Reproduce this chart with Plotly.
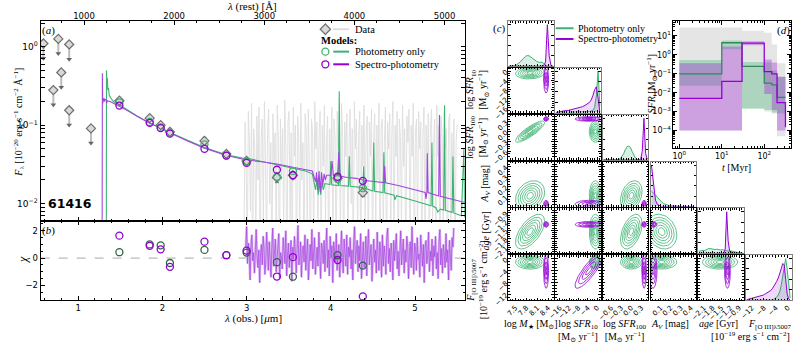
import numpy as np
import plotly.graph_objects as go

W, H = 793, 350
ONE_PLUS_Z = 10.7

GREEN = '#3cb371'
GREEN_DARK = '#2f6646'
PURPLE = '#9400d3'
PURPLE_SPEC = '#a445e0'
PURPLE_LIGHT = '#dfbaf4'
GRAY_SPEC = '#dedede'
SERIF = 'Liberation Serif, DejaVu Serif, serif'
SANS = 'DejaVu Sans, sans-serif'

# ---------------- panel (a)/(b): photometry ----------------
phot_wl = [1.49, 1.85, 1.98, 2.09, 2.50, 2.76, 3.00, 3.36, 3.55, 4.08, 4.38]
phot_flux = [0.205, 0.123, 0.100, 0.082, 0.063, 0.043, 0.035, 0.0215, 0.023, 0.021, 0.0138]
phot_err = [0.012, 0.008, 0.008, 0.009, 0.007, 0.003, 0.003, 0.003, 0.002, 0.002, 0.0015]
ul_wl = [0.588, 0.706, 0.765, 0.800, 0.894, 0.894, 1.153]
ul_flux = [1.10, 0.28, 1.26, 0.47, 1.07, 0.155, 0.091]
UL_DROP = 0.65
modphot_green = [0.195, 0.110, 0.093, 0.080, 0.057, 0.041, 0.034, 0.022, 0.026, 0.0205, 0.0158]
modphot_purple = [0.178, 0.107, 0.092, 0.078, 0.050, 0.041, 0.033, 0.027, 0.023, 0.022, 0.0195]
chi_green = [0.43, 1.00, 0.93, -0.36, 0.60, 0.21, 0.40, -0.30, -1.36, 0.21, -0.55]
chi_purple = [1.64, 0.90, 0.64, -0.64, 1.20, 0.21, 0.55, -1.35, 0.07, -0.14, -2.80]

# model spectra (obs um, flux)
model_purple = [
    (1.284, 0.0005), (1.288, 0.46), (1.292, 0.19), (1.297, 0.215), (1.305, 0.22), (1.31, 0.2),
    (1.315, 0.215), (1.33, 0.21), (1.34, 0.19), (1.345, 0.205), (1.38, 0.2), (1.42, 0.19),
    (1.5, 0.172), (1.6, 0.15), (1.7, 0.13), (1.85, 0.106), (2.0, 0.09), (2.1, 0.079),
    (2.3, 0.063), (2.5, 0.051), (2.76, 0.041), (3.0, 0.036), (3.2, 0.034), (3.36, 0.032),
    (3.55, 0.029), (3.7, 0.027), (3.78, 0.026), (3.82, 0.019), (3.83, 0.025), (3.845, 0.015),
    (3.86, 0.026), (3.875, 0.014), (3.89, 0.025), (3.905, 0.017), (3.92, 0.024), (3.935, 0.02),
    (3.95, 0.023), (4.0, 0.023), (4.015, 0.035), (4.03, 0.023), (4.08, 0.0225), (4.095, 0.045),
    (4.11, 0.0223), (4.2, 0.0215), (4.3, 0.021), (4.39, 0.0198), (4.40, 0.017), (4.41, 0.0197),
    (4.5, 0.0192), (4.63, 0.0185), (4.64, 0.03), (4.65, 0.0184), (4.8, 0.017), (5.0, 0.0148),
    (5.12, 0.0139), (5.13, 0.0115), (5.14, 0.0139), (5.145, 0.044), (5.155, 0.0138),
    (5.28, 0.0125), (5.29, 0.135), (5.30, 0.0124), (5.4, 0.0116), (5.5, 0.011), (5.6, 0.0103)]
model_green = [
    (1.334, 0.0005), (1.337, 0.5), (1.342, 0.34), (1.347, 0.4), (1.352, 0.28), (1.36, 0.3),
    (1.37, 0.24), (1.39, 0.22), (1.42, 0.2), (1.5, 0.18), (1.6, 0.152), (1.7, 0.131),
    (1.85, 0.107), (2.0, 0.091), (2.1, 0.08), (2.3, 0.064), (2.5, 0.052), (2.76, 0.042),
    (2.95, 0.038), (3.05, 0.037), (3.2, 0.034), (3.36, 0.031), (3.55, 0.028), (3.7, 0.026),
    (3.78, 0.024), (3.82, 0.015), (3.835, 0.021), (3.85, 0.013), (3.865, 0.02), (3.88, 0.013),
    (3.895, 0.019), (3.91, 0.015), (3.93, 0.018), (3.99, 0.0175), (4.0, 0.035), (4.01, 0.0174),
    (4.09, 0.017), (4.1, 0.27), (4.11, 0.017), (4.21, 0.0167), (4.22, 0.04), (4.23, 0.0166),
    (4.38, 0.016), (4.39, 0.03), (4.40, 0.0158), (4.5, 0.0145), (4.51, 0.06), (4.52, 0.0144),
    (4.62, 0.0138), (4.63, 0.045), (4.64, 0.0137), (4.75, 0.0128), (4.76, 0.0112), (4.78, 0.0126),
    (5.0, 0.0108), (5.1, 0.0100), (5.19, 0.0094), (5.2, 0.06), (5.21, 0.0093), (5.25, 0.0088),
    (5.27, 0.0078), (5.3, 0.0085), (5.34, 0.0083), (5.35, 0.18), (5.36, 0.0082), (5.44, 0.0077),
    (5.45, 0.04), (5.46, 0.0076), (5.55, 0.0070), (5.58, 0.05), (5.59, 0.0067), (5.6, 0.0066)]

# NIRSpec spectrum (gray) from 2.97 to 5.50 um
spec_start, spec_end = 2.97, 5.50
spec_gray = [
    0.004, 0.11, 0.03, 0.002, 0.15, 0.06, 0.008, 0.19, 0.001, 0.09,
    0.05, 0.003, 0.13, 0.02, 0.17, 0.001, 0.07, 0.12, 0.005, 0.2,
    0.04, 0.002, 0.1, 0.16, 0.01, 0.06, 0.001, 0.14, 0.03, 0.08,
    0.003, 0.18, 0.07, 0.001, 0.12, 0.02, 0.09, 0.004, 0.21, 0.05,
    0.001, 0.11, 0.15, 0.006, 0.08, 0.002, 0.17, 0.04, 0.1, 0.001,
    0.13, 0.07, 0.003, 0.19, 0.02, 0.06, 0.001, 0.14, 0.09, 0.005,
    0.16, 0.03, 0.001, 0.12, 0.08, 0.002, 0.2, 0.05, 0.11, 0.004,
    0.07, 0.15, 0.001, 0.1, 0.03, 0.18, 0.006, 0.06, 0.13, 0.001,
    0.09, 0.02, 0.17, 0.004, 0.12, 0.07, 0.001, 0.15, 0.05, 0.1,
    0.003, 0.19, 0.08, 0.001, 0.11, 0.04, 0.14, 0.002, 0.06, 0.16,
    0.01, 0.09, 0.001, 0.2, 0.05, 0.12, 0.003, 0.07, 0.15, 0.001,
    0.1, 0.03, 0.18, 0.006, 0.08, 0.13, 0.002, 0.11, 0.04, 0.16,
    0.001, 0.07, 0.14, 0.005, 0.1, 0.02, 0.19, 0.001, 0.09, 0.12,
    0.004, 0.06, 0.17, 0.001, 0.11, 0.05, 0.14, 0.003, 0.08, 0.2,
    0.002, 0.1, 0.04, 0.15, 0.001, 0.12, 0.07, 0.005, 0.18, 0.03,
    0.09, 0.001, 0.13, 0.06, 0.16, 0.002, 0.1, 0.04, 0.19, 0.001,
    0.08, 0.12, 0.003, 0.15, 0.05, 0.11, 0.001, 0.07, 0.17, 0.004,
    0.1, 0.02, 0.14, 0.001, 0.09, 0.16, 0.006, 0.06, 0.12, 0.002,
    0.18, 0.04, 0.1, 0.001, 0.13, 0.07, 0.003, 0.15, 0.05, 0.09,
    0.001, 0.11, 0.14, 0.004, 0.08, 0.02, 0.12, 0.001, 0.06, 0.1]

# spectral chi residuals (spectro-photometry) from 2.99 to 5.46 um
chi_start, chi_end = 2.99, 5.46
chi_spec = [
    0.8, 2.3, -0.4, 1.1, 0.2, -1.6, 0.9, 1.7, -0.2, 0.4,
    -1.1, 1.3, 2.1, 0.1, -0.7, 0.6, -1.8, 0.3, 1.0, -0.5,
    1.6, 0.7, -1.2, -0.3, 1.9, 0.5, -0.9, 1.2, 0.0, -1.4,
    0.8, 2.2, -0.6, 0.3, 1.4, -1.0, -0.2, 0.9, 1.8, -1.5,
    0.4, 0.1, -0.8, 1.5, 0.6, -0.4, 2.0, -1.3, 0.2, 1.1,
    -0.7, 0.5, 1.3, -1.7, 0.8, -0.1, 1.6, 0.3, -1.1, 0.7,
    2.4, -0.5, 0.0, 1.2, -1.4, 0.6, 0.9, -0.3, 1.7, -0.9,
    0.2, 1.4, -1.6, 0.5, 1.0, -0.2, 2.1, -0.8, 0.3, 1.5,
    -1.2, 0.1, 0.8, -0.6, 1.9, 0.4, -1.5, 1.1, 0.7, -0.4,
    1.3, -1.0, 0.2, 2.2, -0.7, 0.6, -1.3, 1.6, 0.0, 0.9,
    -1.8, 1.2, 0.5, -0.3, 1.8, -0.9, 0.4, 1.0, -1.4, 0.7,
    2.0, -0.1, -1.1, 1.4, 0.3, -0.6, 1.7, -1.2, 0.8, 0.1,
    1.5, -0.8, 0.6, -1.6, 1.1, 2.3, -0.4, 0.2, 1.3, -1.0,
    0.9, -0.2, 1.8, -1.5, 0.5, 1.2, -0.7, 0.0, 1.6, -1.3,
    0.7, 2.1, -0.5, 0.3, 1.0, -1.7, 0.8, 1.4, -0.3, 0.6,
    -1.1, 1.9, 0.2, -0.9, 1.2, 0.4, -1.4, 1.7, -0.6, 0.9,
    0.1, -1.2, 1.5, 2.2, -0.4, 0.7, -1.0, 1.1, 0.3, -1.6,
    1.3, -0.2, 0.8, 1.8, -0.8, 0.5, -1.3, 1.0, 2.0, -0.5,
    0.2, 1.4, -1.1, 0.6, -0.3, 1.6, 0.9, -1.5, 0.4, 1.2,
    -0.7, 2.3, 0.0, -1.2, 1.1, 0.7, -0.9, 1.5, -0.1, 0.3,
    -1.4, 1.7, 0.6, -0.6, 1.0, -1.8, 0.8, 1.3, -0.4, 0.2,
    1.9, -1.0, 0.5, -0.2, 1.4, -1.3, 0.9, 0.1, 1.6, -0.8,
    0.4, -1.5, 1.2, 2.1, -0.5, 0.7, -1.1, 1.0, 0.3, -0.7,
    1.8, -0.3, 0.6, -1.6, 1.3, 0.0, -0.9, 1.5, 0.8, 2.2]

# ---------------- panel (c): corner plot ----------------
p_range = [[7.3, 8.55], [-18, 1.5], [-0.85, 0.5], [0.002, 0.45], [-2.3, -0.75], [-14, 1.2]]
p_tick0 = [7.5, 0, 0, 0.1, -0.9, 0]
p_dtick = [0.3, 4, 0.3, 0.1, 0.3, 4]
p_fmt = ['.1f', 'd', '.1f', '.1f', '.1f', 'd']
green_mean = [7.9, -0.8, 0.0, 0.11, -1.55, -1.1]
green_sd = [0.2, 1.3, 0.16, 0.075, 0.3, 1.2]
purple_mean = [8.34, -3.5, 0.38, 0.025, -1.3, -4.0]
purple_sd = [0.035, 3.0, 0.035, 0.02, 0.05, 3.0]
green_rho = {(0, 2): 0.85, (0, 3): 0.25, (0, 4): 0.6, (2, 4): 0.45, (2, 3): 0.3, (3, 4): -0.2, (0, 1): 0.1}
purple_rho = {(1, 5): 0.85}
green_levels = [0.45, 0.75, 1.05, 1.35, 1.65, 2.0]
purple_levels = [0.5, 1.0, 1.5, 2.0]

# 1D marginal histograms: (lo, bin width, counts)
hist_green = [
    (7.3, 0.05, [0, 0, 0, 0.01, 0.03, 0.06, 0.1, 0.15, 0.2, 0.24, 0.26, 0.25, 0.22, 0.18, 0.14, 0.12,
                 0.1, 0.09, 0.1, 0.06, 0.02, 0, 0, 0, 0]),
    (-18, 0.75, [0, 0, 0, 0, 0, 0, 0, 0, 0, 0, 0, 0, 0, 0, 0, 0.005, 0.01, 0.01, 0.015, 0.02, 0.03,
                 0.05, 0.12, 0.4, 1.0, 0.15]),
    (-0.85, 0.05, [0, 0, 0, 0, 0, 0, 0, 0, 0, 0, 0.03, 0.08, 0.15, 0.25, 0.32, 0.33, 0.3, 0.2, 0.1,
                   0.04, 0.01, 0, 0, 0, 0, 0, 0]),
    (0.0, 0.02, [0.37, 0.33, 0.28, 0.22, 0.16, 0.11, 0.07, 0.05, 0.03, 0.02, 0.015, 0.01, 0.005,
                 0.003, 0, 0, 0, 0, 0, 0, 0, 0]),
    (-2.3, 0.05, [0.05, 0.06, 0.06, 0.07, 0.07, 0.08, 0.1, 0.12, 0.11, 0.1, 0.1, 0.09, 0.1, 0.09,
                  0.08, 0.08, 0.09, 0.07, 0.07, 0.06, 0.06, 0.05, 0.05, 0.05, 0.04, 0.03, 0.03,
                  0.02, 0.01, 0.01, 0.0]),
    (-14, 0.5, [0, 0, 0, 0, 0, 0, 0, 0, 0, 0, 0, 0, 0, 0, 0, 0, 0, 0, 0.02, 0.04, 0.07, 0.12, 0.2,
                0.35, 0.55, 0.8, 1.0, 0.75, 0.3, 0.05]),
]
hist_purple = [
    (7.3, 0.05, [0, 0, 0, 0, 0, 0, 0, 0, 0, 0, 0, 0, 0, 0, 0, 0, 0, 0, 0, 0.02, 0.1, 1.0, 0.25,
                 0.02, 0]),
    (-18, 0.75, [0, 0, 0.02, 0.03, 0.03, 0.04, 0.05, 0.05, 0.06, 0.07, 0.08, 0.09, 0.1, 0.11, 0.12,
                 0.14, 0.16, 0.18, 0.2, 0.24, 0.3, 0.4, 0.55, 0.62, 0.35, 0.02]),
    (-0.85, 0.05, [0, 0, 0, 0, 0, 0, 0, 0, 0, 0, 0, 0, 0, 0, 0, 0, 0, 0, 0, 0, 0, 0, 0, 0.2, 1.0,
                   0.15, 0.01]),
    (0.0, 0.02, [1.0, 0.5, 0.15, 0.05, 0.02, 0, 0, 0, 0, 0, 0, 0, 0, 0, 0, 0, 0, 0, 0, 0, 0, 0]),
    (-2.3, 0.05, [0, 0, 0, 0, 0, 0, 0, 0, 0, 0, 0, 0, 0, 0, 0, 0, 0, 0, 0.1, 1.0, 0.3, 0.06, 0.03,
                  0.01, 0, 0, 0, 0, 0, 0, 0]),
    (-14, 0.5, [0.01, 0.02, 0.02, 0.03, 0.04, 0.05, 0.06, 0.07, 0.08, 0.09, 0.1, 0.12, 0.14, 0.16,
                0.18, 0.2, 0.23, 0.27, 0.32, 0.38, 0.45, 0.53, 0.62, 0.75, 0.88, 0.85, 0.5, 0.15,
                0.03, 0]),
]

# ---------------- panel (d): star-formation history ----------------
sfh_edges = [1, 10, 30, 100, 150, 200, 316]
sfh_green = [0.1, 4.4, 0.245, 0.032, 0.026, 0.0056]
sfh_purple = [0.005, 0.04, 4.2, 0.13, 0.1, 0.003]
sfh_purple_end = 1.5e-4
green_lo = [0.023, 2.0, 0.0014, 0.0012, 0.0009, 0.0008]
green_hi = [0.53, 5.7, 0.42, 0.4, 0.15, 0.07]
purple_lo = [1e-4, 1e-4, 3.2, 0.0085, 0.0012, 1e-4]
purple_hi = [0.36, 2.8, 5.3, 0.57, 0.4, 0.07]
gray_lo = [1e-4, 1e-4, 0.0015, 0.001, 0.0008, 5e-5]
gray_hi = [28, 28, 19, 15, 3.5, 0.36]

# =====================================================================
fig = go.Figure()
L = dict(width=W, height=H, margin=dict(l=0, r=0, t=0, b=0, pad=0),
         paper_bgcolor='white', plot_bgcolor='rgba(0,0,0,0)', showlegend=False,
         font=dict(family=SANS, size=9, color='black'))
ann = []


def dom_x(a, b):
    return [a / W, b / W]


def dom_y(top, bottom):
    return [1 - bottom / H, 1 - top / H]


def minor_log(e0, e1):
    return [d * 10.0 ** e for e in range(e0, e1) for d in range(2, 10)]


AX = dict(showline=True, linecolor='black', linewidth=1, ticks='inside', tickcolor='black',
          ticklen=4, tickwidth=0.8, showgrid=False, zeroline=False,
          tickfont=dict(family=SANS, size=8.5, color='black'))
MINOR = dict(ticks='inside', ticklen=2, tickcolor='black', tickwidth=0.6, showgrid=False)

counter = [0]


def add_axes(xdom, ydom, xo, yo):
    counter[0] += 1
    k = counter[0]
    sx = '' if k == 1 else str(k)
    L['xaxis' + sx] = dict(AX, domain=xdom, anchor='y' + sx, **xo)
    L['yaxis' + sx] = dict(AX, domain=ydom, anchor='x' + sx, **yo)
    return 'x' + sx, 'y' + sx


def A(text, px, py, size=10.5, xanchor='center', yanchor='middle', angle=0, family=SERIF):
    ann.append(dict(text=text, x=px / W, y=1 - py / H, xref='paper', yref='paper', showarrow=False,
                    xanchor=xanchor, yanchor=yanchor, textangle=angle,
                    font=dict(family=family, size=size, color='black')))


XR = [0.555, 5.59]

# ---------------- panel (a) ----------------
xa, ya = add_axes(
    dom_x(33, 462), dom_y(22, 227),
    dict(range=XR, tickmode='linear', tick0=0, dtick=1, showticklabels=False, mirror=True,
         minor=dict(MINOR, dtick=0.2, tick0=0)),
    dict(type='log', range=[-2.224, 0.323], tickmode='array', tickvals=[0.01, 0.1, 1],
         ticktext=['10<sup>−2</sup>', '10<sup>−1</sup>', '10<sup>0</sup>'], mirror='allticks',
         tickfont=dict(family=SANS, size=9, color='black'),
         minor=dict(MINOR, tickmode='array', tickvals=minor_log(-3, 1))))
L['xaxis2'] = dict(AX, overlaying='x', anchor='y', side='top', showline=False,
                   range=[XR[0] * 1e4 / ONE_PLUS_Z, XR[1] * 1e4 / ONE_PLUS_Z],
                   tickmode='linear', tick0=0, dtick=1000, minor=dict(MINOR, dtick=250, tick0=0))
counter[0] = 2

fig.add_trace(go.Scatter(x=[w * 1e4 / ONE_PLUS_Z for w in phot_wl], y=phot_flux, mode='markers',
                         marker=dict(opacity=0), hoverinfo='skip', xaxis='x2', yaxis='y'))

spec_wl = np.linspace(spec_start, spec_end, len(spec_gray))
fig.add_trace(go.Scatter(x=spec_wl, y=spec_gray, mode='lines', line=dict(color=GRAY_SPEC, width=0.9),
                         xaxis=xa, yaxis=ya))
gw, gf = zip(*model_green)
pw, pf = zip(*model_purple)
fig.add_trace(go.Scatter(x=gw, y=gf, mode='lines', line=dict(color=GREEN, width=1.1), xaxis=xa, yaxis=ya))
fig.add_trace(go.Scatter(x=pw, y=pf, mode='lines', line=dict(color=PURPLE_SPEC, width=1.1), xaxis=xa, yaxis=ya))

ulx, uly = [], []
for w, f in zip(ul_wl, ul_flux):
    ulx += [w, w, None]
    uly += [f, f * UL_DROP, None]
fig.add_trace(go.Scatter(x=ulx, y=uly, mode='lines', line=dict(color='#bdbdbd', width=2),
                         xaxis=xa, yaxis=ya))
fig.add_trace(go.Scatter(x=ul_wl, y=[f * UL_DROP for f in ul_flux], mode='markers',
                         marker=dict(symbol='triangle-down', size=5, color='#666666'),
                         xaxis=xa, yaxis=ya))
fig.add_trace(go.Scatter(x=ul_wl, y=ul_flux, mode='markers',
                         marker=dict(symbol='diamond', size=7, color='#d9d9d9',
                                     line=dict(color='#6e6e6e', width=1.2)), xaxis=xa, yaxis=ya))
fig.add_trace(go.Scatter(x=phot_wl, y=phot_flux, mode='markers',
                         error_y=dict(type='data', array=phot_err, color='#777777', thickness=1, width=2),
                         marker=dict(symbol='diamond', size=7, color='#d9d9d9',
                                     line=dict(color='#6e6e6e', width=1.2)), xaxis=xa, yaxis=ya))
fig.add_trace(go.Scatter(x=phot_wl, y=modphot_green, mode='markers',
                         marker=dict(symbol='circle-open', size=7, color=GREEN, line=dict(width=1.3)),
                         xaxis=xa, yaxis=ya))
fig.add_trace(go.Scatter(x=phot_wl, y=modphot_purple, mode='markers',
                         marker=dict(symbol='circle-open', size=7, color=PURPLE, line=dict(width=1.3)),
                         xaxis=xa, yaxis=ya))

# ---------------- panel (b) ----------------
xb, yb = add_axes(
    dom_x(33, 462), dom_y(227, 308),
    dict(range=XR, tickmode='linear', tick0=0, dtick=1, mirror='allticks',
         minor=dict(MINOR, dtick=0.2, tick0=0)),
    dict(range=[-3.07, 2.7], tickmode='array', tickvals=[-2, 0, 2], mirror='allticks',
         minor=dict(MINOR, dtick=0.5, tick0=0)))
L['shapes'] = [dict(type='line', xref=xb + ' domain', x0=0, x1=1, yref=yb, y0=0, y1=0,
                    line=dict(color='#aaaaaa', width=1, dash='dash'), layer='below')]
chi_wl = np.linspace(chi_start, chi_end, len(chi_spec))
fig.add_trace(go.Scatter(x=chi_wl, y=chi_spec, mode='lines', line=dict(color=PURPLE_LIGHT, width=2.5),
                         xaxis=xb, yaxis=yb))
fig.add_trace(go.Scatter(x=chi_wl, y=chi_spec, mode='lines', line=dict(color=PURPLE_SPEC, width=0.7),
                         xaxis=xb, yaxis=yb))
fig.add_trace(go.Scatter(x=phot_wl, y=chi_green, mode='markers',
                         marker=dict(symbol='circle-open', size=7, color=GREEN_DARK, line=dict(width=1.3)),
                         xaxis=xb, yaxis=yb))
fig.add_trace(go.Scatter(x=phot_wl, y=chi_purple, mode='markers',
                         marker=dict(symbol='circle-open', size=7, color=PURPLE, line=dict(width=1.3)),
                         xaxis=xb, yaxis=yb))

# ---------------- panel (c) corner ----------------
col_x0 = [506, 553.5, 601.5, 650, 698, 746.5]
row_y0 = [22, 69.5, 118, 166, 214, 262]
CELL = 46
CAX = dict(ticklen=2.5, tickfont=dict(family=SANS, size=7, color='black'), mirror='allticks')


def caxis(p, show, gray=False):
    d = dict(CAX, range=p_range[p], tickmode='linear', tick0=p_tick0[p], dtick=p_dtick[p],
             showticklabels=show, tickangle=-45, tickformat=p_fmt[p],
             minor=dict(MINOR, ticklen=1.5, dtick=p_dtick[p] / 4, tick0=p_tick0[p]))
    if gray:
        d['linecolor'] = '#808080'
    return d


def ellipse_trace(mx, my, sx, sy, rho, levels):
    xs, ys = [], []
    t = np.linspace(0, 2 * np.pi, 72)
    for k in levels:
        xs += list(mx + k * sx * np.cos(t)) + [None]
        ys += list(my + k * sy * (rho * np.cos(t) + np.sqrt(1 - rho ** 2) * np.sin(t))) + [None]
    return xs, ys


for i in range(6):
    for j in range(i + 1):
        xd = dom_x(col_x0[j], col_x0[j] + CELL)
        yd = dom_y(row_y0[i], row_y0[i] + CELL)
        if i == j:
            yo = dict(CAX, range=[0, 1.08], tickmode='linear', tick0=0, dtick=0.25,
                      showticklabels=False, linecolor='#808080')
            xr, yr = add_axes(xd, yd, caxis(j, i == 5, gray=True), yo)
            for (lo, wd, cnt), col, fc in [(hist_green[j], GREEN, 'rgba(60,179,113,0.2)'),
                                           (hist_purple[j], PURPLE, 'rgba(148,0,211,0.15)')]:
                cx = [lo + wd * (n + 0.5) for n in range(len(cnt))]
                fig.add_trace(go.Scatter(x=cx, y=cnt, mode='lines', line=dict(color=col, width=1),
                                         fill='tozeroy', fillcolor=fc, xaxis=xr, yaxis=yr))
        else:
            xr, yr = add_axes(xd, yd, caxis(j, i == 5), caxis(i, j == 0))
            gx, gy = ellipse_trace(green_mean[j], green_mean[i], green_sd[j], green_sd[i],
                                   green_rho.get((j, i), 0.0), green_levels)
            fig.add_trace(go.Scatter(x=gx, y=gy, mode='lines', line=dict(color=GREEN, width=0.8),
                                     xaxis=xr, yaxis=yr))
            qx, qy = ellipse_trace(purple_mean[j], purple_mean[i], purple_sd[j], purple_sd[i],
                                   purple_rho.get((j, i), 0.0), purple_levels)
            fig.add_trace(go.Scatter(x=qx, y=qy, mode='lines', line=dict(color=PURPLE, width=0.8),
                                     xaxis=xr, yaxis=yr))

# ---------------- panel (d) ----------------
DFONT = dict(family=SANS, size=8, color='black')
xdd, ydd = add_axes(
    dom_x(673, 792), dom_y(22, 152),
    dict(type='log', range=[-0.14, 2.63], tickmode='array', tickvals=[1, 10, 100],
         ticktext=['10<sup>0</sup>', '10<sup>1</sup>', '10<sup>2</sup>'], mirror='allticks',
         tickfont=DFONT, minor=dict(MINOR, tickmode='array', tickvals=minor_log(-1, 3))),
    dict(type='log', range=[-4.93, 1.77], tickmode='array',
         tickvals=[1e-4, 1e-3, 1e-2, 1e-1, 1, 10],
         ticktext=['10<sup>−4</sup>', '10<sup>−3</sup>', '10<sup>−2</sup>', '10<sup>−1</sup>',
                   '10<sup>0</sup>', '10<sup>1</sup>'], mirror='allticks', tickfont=DFONT,
         minor=dict(MINOR, tickmode='array', tickvals=minor_log(-5, 2))))
for lo_, hi_, fc in [(gray_lo, gray_hi, 'rgba(175,175,175,0.33)'),
                     (green_lo, green_hi, 'rgba(60,179,113,0.33)'),
                     (purple_lo, purple_hi, 'rgba(148,0,211,0.3)')]:
    for b in range(len(sfh_edges) - 1):
        e0, e1 = sfh_edges[b], sfh_edges[b + 1]
        fig.add_trace(go.Scatter(x=[e0, e1, e1, e0, e0], y=[lo_[b], lo_[b], hi_[b], hi_[b], lo_[b]],
                                 mode='lines', line=dict(width=0), fill='toself', fillcolor=fc,
                                 xaxis=xdd, yaxis=ydd))
fig.add_trace(go.Scatter(x=sfh_edges, y=sfh_green + [sfh_green[-1]], mode='lines', line_shape='hv',
                         line=dict(color='#2e8b57', width=1.3), xaxis=xdd, yaxis=ydd))
fig.add_trace(go.Scatter(x=sfh_edges + [sfh_edges[-1]], y=sfh_purple + [sfh_purple[-1], sfh_purple_end],
                         mode='lines', line_shape='hv', line=dict(color=PURPLE, width=1.3),
                         xaxis=xdd, yaxis=ydd))

# ---------------- pixel overlay for legends ----------------
counter[0] += 1
k = counter[0]
L[f'xaxis{k}'] = dict(domain=[0, 1], range=[0, W], visible=False, anchor=f'y{k}', fixedrange=True)
L[f'yaxis{k}'] = dict(domain=[0, 1], range=[H, 0], visible=False, anchor=f'x{k}', fixedrange=True)
xo, yo = f'x{k}', f'y{k}'


def seg(x0, x1, y, color, width=2):
    fig.add_trace(go.Scatter(x=[x0, x1], y=[y, y], mode='lines', line=dict(color=color, width=width),
                             xaxis=xo, yaxis=yo))


def mk(x, y, **m):
    fig.add_trace(go.Scatter(x=[x], y=[y], mode='markers', marker=m, xaxis=xo, yaxis=yo))


fig.add_trace(go.Scatter(x=[321, 321], y=[24, 36], mode='lines', line=dict(color='#777777', width=1),
                         xaxis=xo, yaxis=yo))
mk(321, 30, symbol='diamond', size=8, color='#d9d9d9', line=dict(color='#6e6e6e', width=1.2))
seg(329, 345, 30, GRAY_SPEC)
mk(321, 53, symbol='circle-open', size=7, color=GREEN, line=dict(width=1.3))
seg(329, 345, 53, GREEN)
mk(321, 66, symbol='circle-open', size=7, color=PURPLE, line=dict(width=1.3))
seg(329, 345, 66, PURPLE)
A('Data', 349, 30, xanchor='left')
A('<b>Models:</b>', 315, 42, xanchor='left')
A('Photometry only', 349, 53, xanchor='left')
A('Spectro-photometry', 349, 66, xanchor='left')

seg(554, 572, 29, GREEN)
seg(554, 572, 40, PURPLE)
A('Photometry only', 575, 29, size=10, xanchor='left')
A('Spectro-photometry', 575, 40, size=10, xanchor='left')

# ---------------- text ----------------
A('<i>λ</i> (rest) [Å]', 247, 7, size=11)
A('<i>λ</i> (obs.) [<i>μ</i>m]', 248, 327, size=11)
A('<i>F</i><sub>λ</sub> [10<sup>−20</sup> erg s<sup>−1</sup> cm<sup>−2</sup> Å<sup>−1</sup>]',
  11, 125, size=10, angle=-90)
A('<i>χ</i>', 15, 266, size=12, angle=-90)
A('<b>61416</b>', 63, 209, size=12.5, family=SANS)
A('(<i>a</i>)', 41, 31, size=11)
A('(<i>b</i>)', 41, 237, size=11)
A('(<i>c</i>)', 497, 29, size=11)
A('(<i>d</i>)', 784, 31, size=11)

UNIT = '[M<sub>⊙</sub> yr<sup>−1</sup>]'
FUNIT = '[10<sup>−19</sup> erg s<sup>−1</sup> cm<sup>−2</sup>]'
A('log <i>SFR</i><sub>10</sub><br>' + UNIT, 475, 92.5, size=10, angle=-90)
A('log <i>SFR</i><sub>100</sub><br>' + UNIT, 475, 141, size=10, angle=-90)
A('<i>A<sub>V</sub></i> [mag]', 483, 189, size=10, angle=-90)
A('<i>age</i> [Gyr]', 483, 237, size=10, angle=-90)
A('<i>F</i><sub>[O III]λ5007</sub><br>' + FUNIT, 474, 287, size=10, angle=-90)

A('log <i>M</i><sub>★</sub> [M<sub>⊙</sub>]', 529, 324, size=10, yanchor='top')
A('log <i>SFR</i><sub>10</sub><br>' + UNIT, 576.5, 324, size=10, yanchor='top')
A('log <i>SFR</i><sub>100</sub><br>' + UNIT, 624.5, 324, size=10, yanchor='top')
A('<i>A<sub>V</sub></i> [mag]', 670, 324, size=10, yanchor='top')
A('<i>age</i> [Gyr]', 719, 324, size=10, yanchor='top')
A('<i>F</i><sub>[O III]λ5007</sub>', 770, 324, size=10, yanchor='top')
A(FUNIT, 793, 337, size=10, xanchor='right', yanchor='top')

A('<i>SFR</i> [M<sub>⊙</sub> yr<sup>−1</sup>]', 651, 86, size=10, angle=-90)
A('<i>t</i> [Myr]', 737, 172, size=10)

L['annotations'] = ann
fig.update_layout(**L)
fig.write_html('out.html', config={'displayModeBar': False},
               post_script="document.body.style.margin='0';document.documentElement.style.overflow='hidden';")
